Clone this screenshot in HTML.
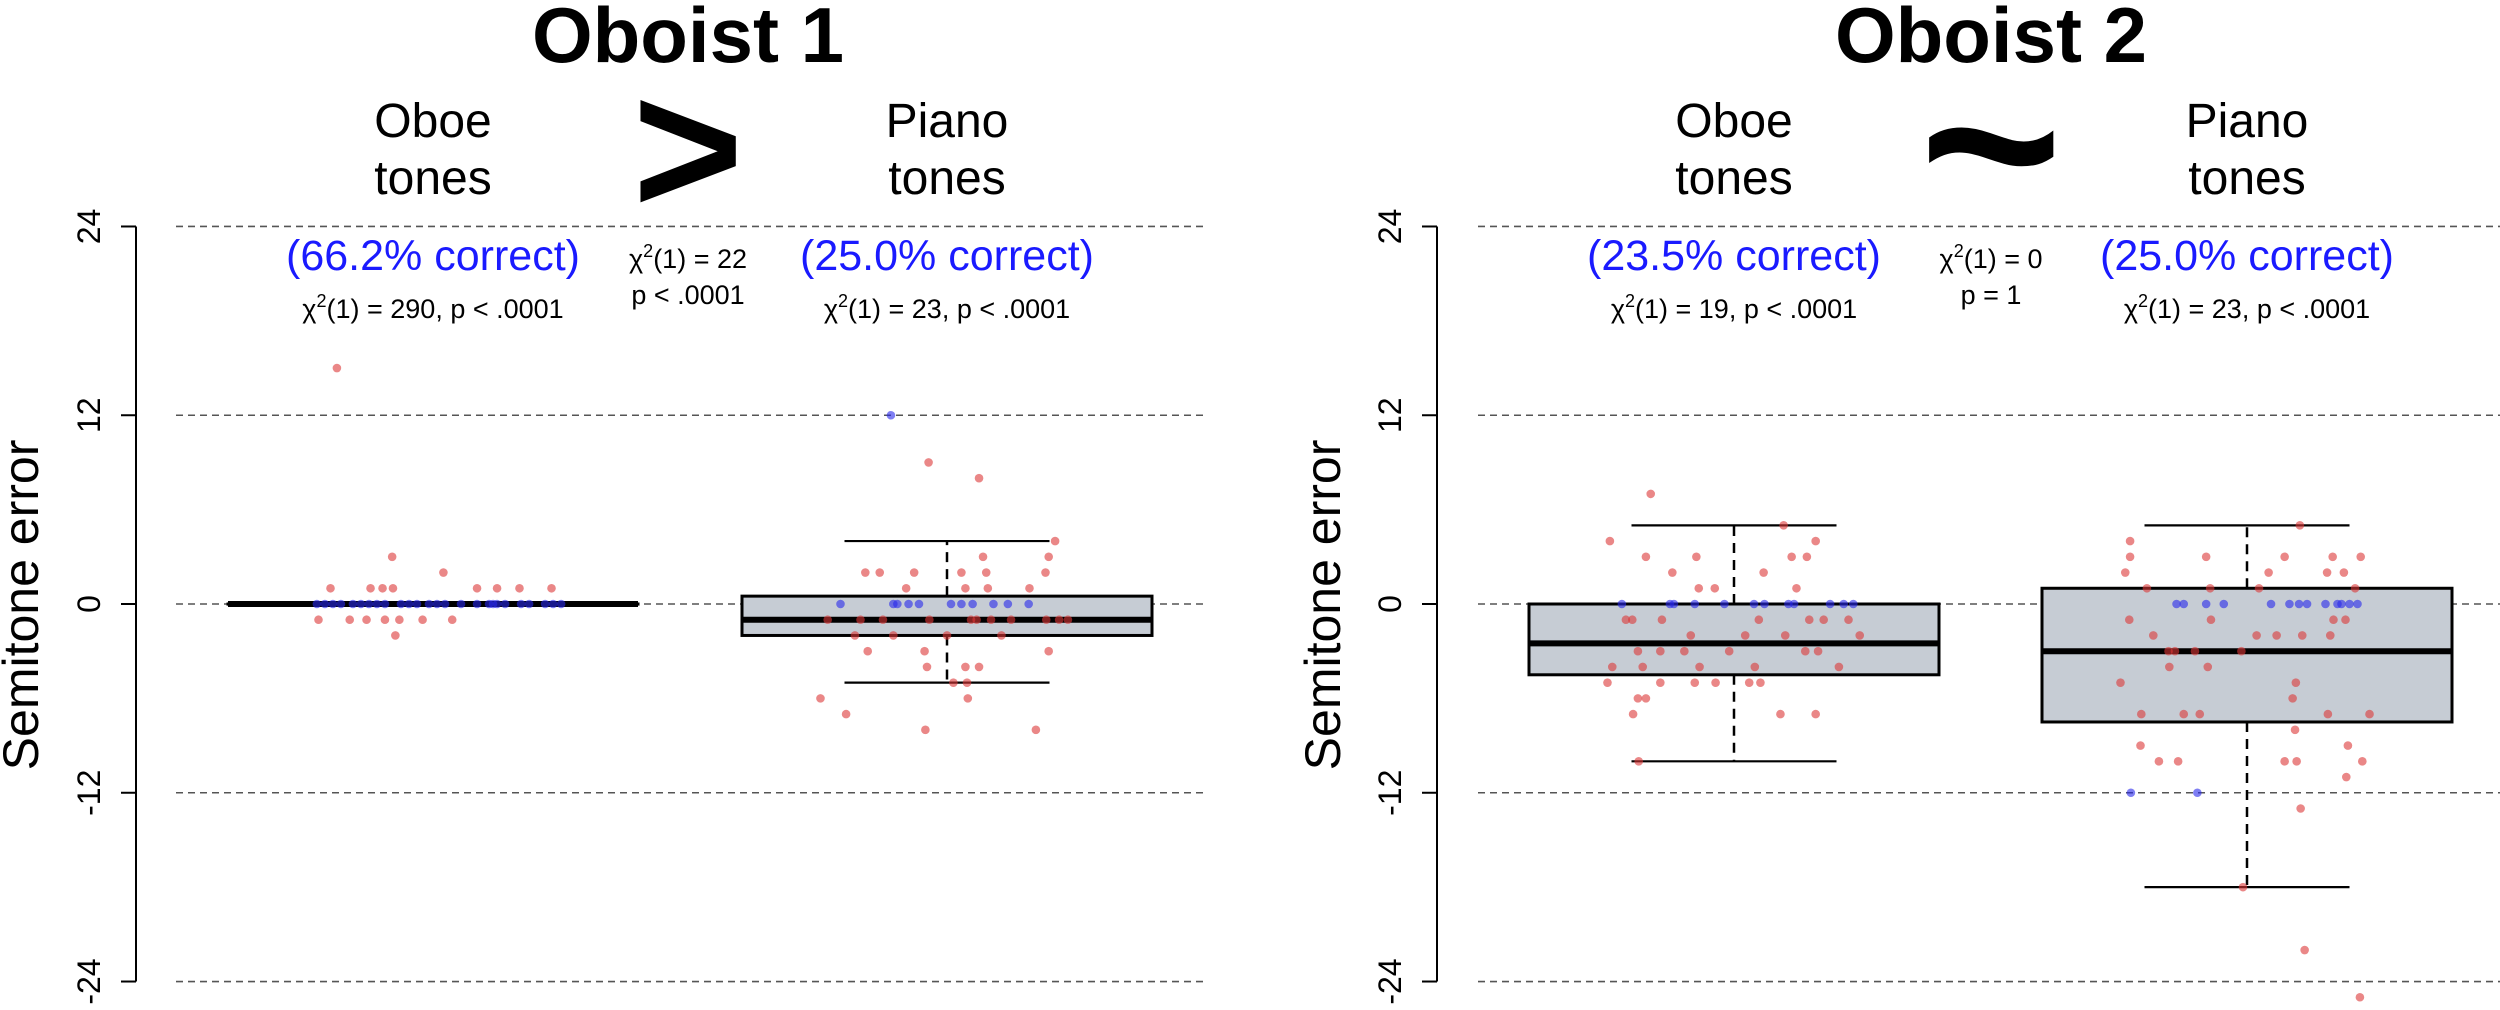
<!DOCTYPE html>
<html><head><meta charset="utf-8">
<style>
html,body{margin:0;padding:0;background:#fff;}
svg{display:block;font-family:"Liberation Sans",Arial,sans-serif;}
</style></head>
<body>
<svg id="chart" width="2500" height="1010" viewBox="0 0 2500 1010" xmlns="http://www.w3.org/2000/svg"></svg>
<script>
// ---- data ----
const yTicks = [24, 12, 0, -12, -24];
const yTickLabels = ["24", "12", "0", "-12", "-24"];
const panelTitles = ["Oboist 1", "Oboist 2"];
const comparisonSymbols = [">", "~"];
const categories = ["Oboe", "Piano"];
const percentCorrect = ["(66.2% correct)", "(25.0% correct)", "(23.5% correct)", "(25.0% correct)"];
const chiValues = ["290", "23", "19", "23"];
const betweenChi = ["22", "0"];
const betweenP = ["p < .0001", "p = 1"];
// box stats: [lowWhisker, q1, median, q3, highWhisker]
const boxO1Oboe = [0, 0, 0, 0, 0];
const boxO1Piano = [-5, -2, -1, 0.5, 4];
const boxO2Oboe = [-10, -4.5, -2.5, 0, 5];
const boxO2Piano = [-18, -7.5, -3, 1, 5];
// points: values and jitter (jitter as offset in 1/512 of box width)
const o1OboeRedVals = [15, 3, 2, 1, 1, 1, 1, 1, 1, 1, 1, -1, -1, -1, -1, -1, -1, -1, -2];
const o1OboeRedJit = [-120, -51, 13, -128, -78, -63, -50, 55, 80, 108, 148, -143, -104, -83, -60, -42, -13, 24, -47];
const o1OboeBlueVals = [0,0,0,0,0,0,0,0,0,0,0,0,0,0,0,0,0,0,0,0,0,0,0,0,0,0];
const o1OboeBlueJit = [-145,-135,-125,-115,-100,-90,-80,-70,-60,-40,-30,-20,-5,5,15,35,55,70,75,80,90,110,120,140,150,160];
const o1PianoRedVals = [9, 8, 4, 3, 3, 2, 2, 2, 2, 2, 2, 1, 1, 1, 1, -1, -1, -1, -1, -1, -1, -1, -1, -1, -1, -1, -2, -2, -2, -2, -3, -3, -3, -4, -4, -4, -5, -5, -6, -6, -7, -8, -8];
const o1PianoRedJit = [-23, 40, 135, 45, 127, -102, -84, -41, 18, 49, 123, -51, 23, 51, 103, -149, -108, -80, -22, 30, 37, 55, 80, 124, 140, 151, -115, -67, 0, 68, -99, -28, 127, -25, 23, 40, 8, 25, -158, 26, -126, -27, 111];
const o1PianoBlueVals = [12, 0, 0, 0, 0, 0, 0, 0, 0, 0, 0, 0];
const o1PianoBlueJit = [-70, -133, -67, -62, -48, -35, 5, 18, 32, 58, 76, 102];
const o2OboeRedVals = [7, 5, 4, 4, 3, 3, 3, 3, 2, 2, 1, 1, 1, -1, -1, -1, -1, -1, -1, -1, -2, -2, -2, -2, -3, -3, -3, -3, -3, -3, -4, -4, -4, -4, -4, -5, -5, -5, -5, -5, -5, -6, -6, -7, -7, -7, -10];
const o2OboeRedJit = [-104, 62, -155, 102, -110, -47, 72, 91, -77, 37, -44, -24, 78, -135, -127, -90, 31, 94, 112, 143, -54, 14, 64, 157, -120, -92, -62, -6, 89, 105, -152, -114, -43, 26, 131, -158, -92, -49, -23, 19, 33, -120, -110, -126, 58, 102, -119];
const o2OboeBlueVals = [0,0,0,0,0,0,0,0,0,0,0,0];
const o2OboeBlueJit = [-140, -80, -75, -49, -12, 25, 38, 68, 75, 120, 137, 149];
const o2PianoRedVals = [5, 4, 3, 3, 3, 3, 3, 2, 2, 2, 2, 1, 1, 1, 1, -1, -1, -1, -1, -2, -2, -2, -2, -2, -3, -3, -3, -3, -4, -4, -5, -5, -6, -7, -7, -7, -7, -7, -8, -9, -9, -10, -10, -10, -10, -10, -11, -13, -18, -22, -25];
const o2PianoRedJit = [66, -146, -146, -51, 47, 107, 142, -152, 27, 100, 121, -125, -46, 15, 135, -147, -45, 108, 123, -117, 12, 37, 69, 104, -98, -90, -65, -7, -97, -49, -158, 61, 57, -132, -79, -59, 101, 153, 60, -133, 126, -110, -86, 47, 62, 144, 124, 67, -5, 72, 141];
const o2PianoBlueVals = [0,0,0,0,0,0,0,0,0,0,0,0,0,-12,-12];
const o2PianoBlueJit = [-88, -79, -51, -29, 30, 53, 65, 75, 98, 113, 118, 128, 138, -145, -62];

// ---- layout ----
const svg = document.getElementById('chart');
const NS = 'http://www.w3.org/2000/svg';
function mk(tag, attrs, parent) {
  const e = document.createElementNS(NS, tag);
  for (const k in attrs) e.setAttribute(k, attrs[k]);
  (parent || svg).appendChild(e);
  return e;
}
function yScale(v) { return 604 - v * 15.73; }
const BOXW = 410;

const panels = [
  {axisX: 136, gridX0: 176, gridX1: 1204, centers: [433, 947], titleX: 688, labX: 100, ytitleX: 38,
   boxes: [boxO1Oboe, boxO1Piano],
   reds: [[o1OboeRedVals, o1OboeRedJit], [o1PianoRedVals, o1PianoRedJit]],
   blues: [[o1OboeBlueVals, o1OboeBlueJit], [o1PianoBlueVals, o1PianoBlueJit]]},
  {axisX: 1437, gridX0: 1478, gridX1: 2500, centers: [1734, 2247], titleX: 1991, labX: 1401, ytitleX: 1340,
   boxes: [boxO2Oboe, boxO2Piano],
   reds: [[o2OboeRedVals, o2OboeRedJit], [o2PianoRedVals, o2PianoRedJit]],
   blues: [[o2OboeBlueVals, o2OboeBlueJit], [o2PianoBlueVals, o2PianoBlueJit]]}
];

panels.forEach((p, pi) => {
  const g = mk('g', {});
  
  
  yTicks.forEach(t => {
    const l = mk('line', {x1: p.gridX0, x2: p.gridX1, y1: yScale(t), y2: yScale(t), stroke: '#555', 'stroke-width': 1.6, 'stroke-dasharray': '7,5'}, g);
    
    
  });
  const ax = mk('line', {x1: p.axisX, x2: p.axisX, y1: yScale(24), y2: yScale(-24), stroke: '#000', 'stroke-width': 2}, g);
  
  
  yTicks.forEach((t, i) => {
    const tk = mk('line', {x1: p.axisX - 15, x2: p.axisX, y1: yScale(t), y2: yScale(t), stroke: '#000', 'stroke-width': 2}, g);
    
    
    const tl = mk('text', {x: 0, y: 0, 'font-size': 32, 'text-anchor': 'middle', transform: 'translate(' + p.labX + ',' + yScale(t) + ') rotate(-90)'}, g);
    tl.textContent = yTickLabels[i];
    
    
  });
  const yt = mk('text', {x: 0, y: 0, 'font-size': 50, 'text-anchor': 'middle', transform: 'translate(' + p.ytitleX + ',605) rotate(-90)'}, g);
  yt.textContent = 'Semitone error';
  
  
  const tt = mk('text', {x: p.titleX, y: 62, 'font-size': 78, 'font-weight': 'bold', 'text-anchor': 'middle'}, g);
  tt.textContent = panelTitles[pi];
  
  
  const sym = pi === 0 ? mk('text', {x: p.titleX, y: 214, 'font-size': 190, 'font-weight': 'bold', 'text-anchor': 'middle'}, g)
                       : mk('text', {x: p.titleX, y: 228, 'font-size': 245, 'font-weight': 'bold', 'text-anchor': 'middle'}, g);
  sym.textContent = comparisonSymbols[pi];
  
  
  const bc = mk('text', {x: p.titleX, y: 268, 'font-size': 27, 'text-anchor': 'middle'}, g);
  bc.innerHTML = 'χ<tspan dy="-11" font-size="18">2</tspan><tspan dy="11">(1) = ' + betweenChi[pi] + '</tspan>';
  
  
  const bp = mk('text', {x: p.titleX, y: 304, 'font-size': 27, 'text-anchor': 'middle'}, g);
  bp.textContent = betweenP[pi];
  
  

  p.centers.forEach((cx, ci) => {
    const idx = pi * 2 + ci;
    const c1 = mk('text', {x: cx, y: 137, 'font-size': 48, 'text-anchor': 'middle'}, g);
    c1.textContent = categories[ci];
    
    
    const c2 = mk('text', {x: cx, y: 194, 'font-size': 48, 'text-anchor': 'middle'}, g);
    c2.textContent = 'tones';
    
    
    const pc = mk('text', {x: cx, y: 270, 'font-size': 43, fill: '#1a1aff', 'text-anchor': 'middle'}, g);
    pc.textContent = percentCorrect[idx];
    
    
    const cs = mk('text', {x: cx, y: 318, 'font-size': 27, 'text-anchor': 'middle'}, g);
    cs.innerHTML = 'χ<tspan dy="-11" font-size="18">2</tspan><tspan dy="11">(1) = ' + chiValues[idx] + ', p &lt; .0001</tspan>';
    
    

    const b = p.boxes[ci];
    const x0 = cx - BOXW / 2, x1 = cx + BOXW / 2;
    const bg = mk('g', {}, g);
    
    
    if (b[4] !== b[0]) {
      mk('line', {x1: cx, x2: cx, y1: yScale(b[3]), y2: yScale(b[4]), stroke: '#000', 'stroke-width': 2.5, 'stroke-dasharray': '10,7'}, bg);
      mk('line', {x1: cx, x2: cx, y1: yScale(b[1]), y2: yScale(b[0]), stroke: '#000', 'stroke-width': 2.5, 'stroke-dasharray': '10,7'}, bg);
      mk('line', {x1: cx - BOXW / 4, x2: cx + BOXW / 4, y1: yScale(b[4]), y2: yScale(b[4]), stroke: '#000', 'stroke-width': 2.2}, bg);
      mk('line', {x1: cx - BOXW / 4, x2: cx + BOXW / 4, y1: yScale(b[0]), y2: yScale(b[0]), stroke: '#000', 'stroke-width': 2.2}, bg);
    }
    mk('rect', {x: x0, y: yScale(b[3]), width: BOXW, height: Math.max(0.1, yScale(b[1]) - yScale(b[3])), fill: '#c6ccd4', stroke: '#000', 'stroke-width': 3}, bg);
    mk('line', {x1: x0, x2: x1, y1: yScale(b[2]), y2: yScale(b[2]), stroke: '#000', 'stroke-width': 6}, bg);

    [[p.reds[ci], 'rgba(220,55,55,0.6)', 'red'], [p.blues[ci], 'rgba(40,40,235,0.6)', 'blue']].forEach(([arr, col, nm]) => {
      const vals = arr[0], jit = arr[1];
      vals.forEach((v, k) => {
        const c = mk('circle', {cx: cx + jit[k] / 512 * BOXW, cy: yScale(v), r: 4.3, fill: col}, g);
        
        
      });
    });
  });
});
</script>
</body></html>
